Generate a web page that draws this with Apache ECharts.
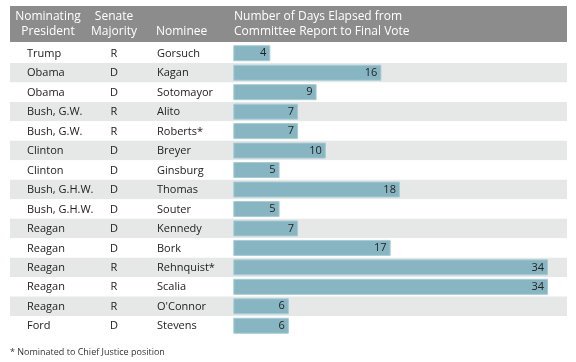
<!DOCTYPE html>
<html>
<head>
<meta charset="utf-8">
<script src="https://cdn.jsdelivr.net/npm/echarts@6/dist/echarts.min.js"></script>
<style>
html,body{margin:0;padding:0;background:#fff;}
#chart{width:576px;height:362px;}
</style>
</head>
<body>
<div id="chart"></div>
<script>
const presidents = ['Trump','Obama','Obama','Bush, G.W.','Bush, G.W.','Clinton','Clinton','Bush, G.H.W.','Bush, G.H.W.','Reagan','Reagan','Reagan','Reagan','Reagan','Ford'];
const majorities = ['R','D','D','R','R','D','D','D','D','D','D','R','R','R','D'];
const nominees = ['Gorsuch','Kagan','Sotomayor','Alito','Roberts*','Breyer','Ginsburg','Thomas','Souter','Kennedy','Bork','Rehnquist*','Scalia',"O'Connor",'Stevens'];
const days = [4,16,9,7,7,10,5,18,5,7,17,34,34,6,6];

const FONT = '"Open Sans"';
const chart = echarts.init(document.getElementById('chart'), null, {renderer:'canvas'});

const GRID_TOP = 43.5, GRID_BOTTOM = 26.5;
const textCol = (name, arr, x, align) => ({
  type: 'custom',
  name: name,
  xAxisIndex: 1, yAxisIndex: 1,
  silent: true,
  data: arr.map((v, i) => [i, v]),
  renderItem: function (params, api) {
    const idx = api.value(0);
    const y = api.coord([0, idx])[1];
    return {
      type: 'text',
      style: {
        text: arr[idx], x: x, y: y + 0.5,
        textAlign: align, textVerticalAlign: 'middle',
        font: '11px ' + FONT, fill: '#222'
      }
    };
  }
});

chart.setOption({
  animation: false,
  grid: [
    {left: 233.3, right: 9, top: GRID_TOP, bottom: GRID_BOTTOM},
    {left: 10, right: 9, top: GRID_TOP, bottom: GRID_BOTTOM}
  ],
  xAxis: [
    {type: 'value', gridIndex: 0, min: 0, max: 36.05, show: false, splitLine: {show: false}},
    {type: 'value', gridIndex: 1, min: 0, max: 1, show: false, splitLine: {show: false}}
  ],
  yAxis: [
    {type: 'category', gridIndex: 0, data: nominees, inverse: true, show: false},
    {type: 'category', gridIndex: 1, data: nominees, inverse: true, show: true,
      axisLine: {show: false}, axisTick: {show: false}, axisLabel: {show: false},
      splitLine: {show: false},
      splitArea: {show: true, areaStyle: {color: ['#ffffff', '#e6e7e7']}}}
  ],
  graphic: [
    {type: 'rect', shape: {x: 10, y: 6, width: 557, height: 36}, style: {fill: '#8c8c8d'}, z: 10},
    {type: 'text', z: 11, style: {text: 'Nominating\nPresident', x: 48, y: 24, textAlign: 'center', textVerticalAlign: 'middle', font: '12px ' + FONT, fill: '#fff', lineHeight: 15}},
    {type: 'text', z: 11, style: {text: 'Senate\nMajority', x: 114, y: 24, textAlign: 'center', textVerticalAlign: 'middle', font: '12px ' + FONT, fill: '#fff', lineHeight: 15}},
    {type: 'text', z: 11, style: {text: 'Nominee', x: 156, y: 32, textAlign: 'left', textVerticalAlign: 'middle', font: '12px ' + FONT, fill: '#fff'}},
    {type: 'text', z: 11, style: {text: 'Number of Days Elapsed from\nCommittee Report to Final Vote', x: 234, y: 24, textAlign: 'left', textVerticalAlign: 'middle', font: '12px ' + FONT, fill: '#fff', lineHeight: 15}},
    {type: 'text', z: 11, style: {text: '* Nominated to Chief Justice position', x: 10, y: 352, textAlign: 'left', textVerticalAlign: 'middle', font: '9px ' + FONT, fill: '#333'}}
  ],
  series: [
    {
      type: 'bar', xAxisIndex: 0, yAxisIndex: 0,
      data: days, barWidth: 16, z: 5,
      itemStyle: {color: '#87b6c2', borderColor: '#a6cbd4', borderWidth: 1},
      label: {show: true, position: 'insideRight', distance: 4, color: '#222', fontFamily: FONT, fontSize: 11}
    },
    textCol('President', presidents, 27, 'left'),
    textCol('Majority', majorities, 114, 'center'),
    textCol('Nominee', nominees, 157, 'left')
  ]
});
</script>
</body>
</html>
